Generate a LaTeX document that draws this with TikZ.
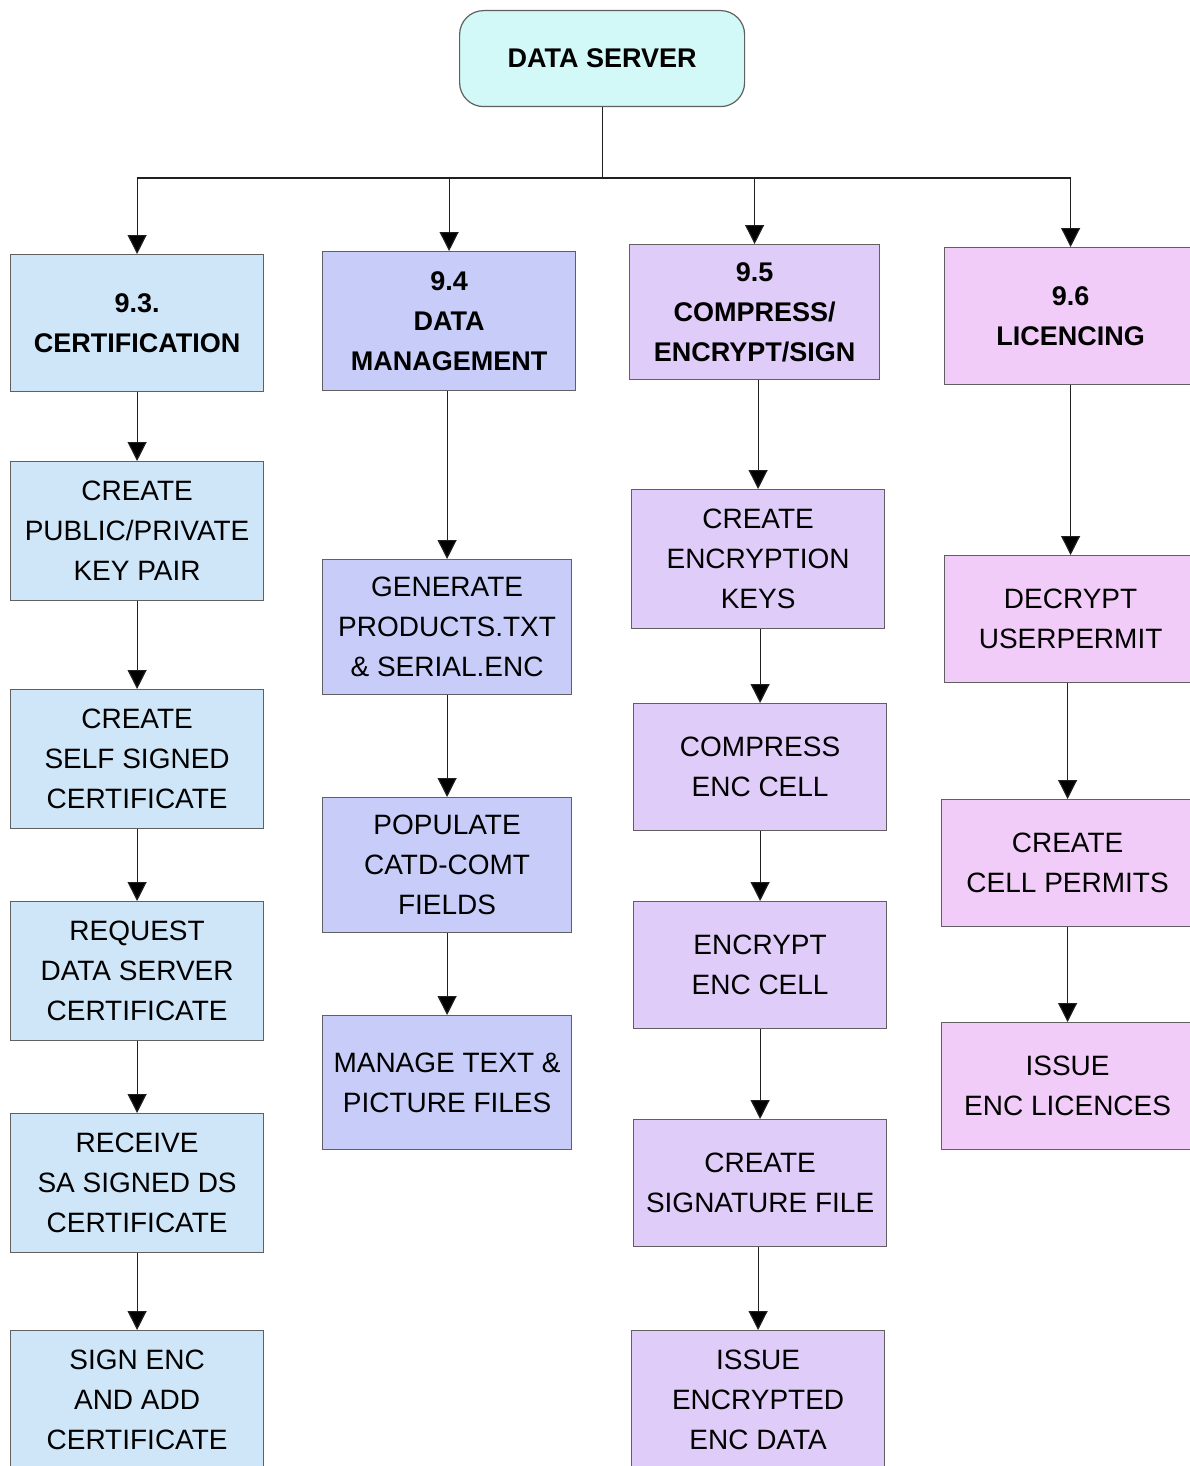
\documentclass[tikz,border=0pt]{standalone}
\usepackage{fontspec}
\setmainfont{Liberation Sans}
\usetikzlibrary{arrows.meta}
\definecolor{dsfill}{HTML}{D2F8F8}
\definecolor{cA}{HTML}{CFE5F8}
\definecolor{cB}{HTML}{C8CCF8}
\definecolor{cC}{HTML}{E0CCF8}
\definecolor{cD}{HTML}{F2CCF8}
\definecolor{bordergray}{HTML}{606060}
\definecolor{linegray}{HTML}{202020}
\begin{document}
\begin{tikzpicture}[x=1pt,y=-1pt,
  box/.style={draw=bordergray, line width=1.2pt, anchor=north west, align=center,
    inner sep=0pt, font=\fontsize{28}{40}\selectfont},
  hdr/.style={box, font=\fontsize{27}{40}\selectfont\bfseries},
  arr/.style={line width=1.2pt, draw=linegray, -{Triangle[width=19pt,length=19pt,fill=black]}},
  ln/.style={line width=1.2pt, draw=linegray}
]
\useasboundingbox (0,0) rectangle (1190,1466);
\clip (0,0) rectangle (1190,1466);

% top
\node[hdr, fill=dsfill, rounded corners=24pt, minimum width=285pt, minimum height=96pt] (ds) at (459,10) {DATA SERVER};

% column 1
\node[hdr, fill=cA, minimum width=253pt, minimum height=137pt] (c93) at (10,254) {9.3.\\CERTIFICATION};
\node[box, fill=cA, minimum width=253pt, minimum height=139pt] (c1a) at (10,461) {CREATE\\PUBLIC/PRIVATE\\KEY PAIR};
\node[box, fill=cA, minimum width=253pt, minimum height=139pt] (c1b) at (10,689) {CREATE\\SELF SIGNED\\CERTIFICATE};
\node[box, fill=cA, minimum width=253pt, minimum height=139pt] (c1c) at (10,901) {REQUEST\\DATA SERVER\\CERTIFICATE};
\node[box, fill=cA, minimum width=253pt, minimum height=139pt] (c1d) at (10,1113) {RECEIVE\\SA SIGNED DS\\CERTIFICATE};
\node[box, fill=cA, minimum width=253pt, minimum height=139pt] (c1e) at (10,1330) {SIGN ENC\\AND ADD\\CERTIFICATE};

% column 2
\node[hdr, fill=cB, minimum width=253pt, minimum height=139pt] (c94) at (322,251) {9.4\\DATA\\MANAGEMENT};
\node[box, fill=cB, minimum width=249pt, minimum height=135pt] (c2a) at (322,559) {GENERATE\\PRODUCTS.TXT\\\& SERIAL.ENC};
\node[box, fill=cB, minimum width=249pt, minimum height=135pt] (c2b) at (322,797) {POPULATE\\CATD-COMT\\FIELDS};
\node[box, fill=cB, minimum width=249pt, minimum height=134pt] (c2c) at (322,1015) {MANAGE TEXT \&\\PICTURE FILES};

% column 3
\node[hdr, fill=cC, minimum width=250pt, minimum height=135pt] (c95) at (629,244) {9.5\\COMPRESS/\\ENCRYPT/SIGN};
\node[box, fill=cC, minimum width=253pt, minimum height=139pt] (c3a) at (631,489) {CREATE\\ENCRYPTION\\KEYS};
\node[box, fill=cC, minimum width=253pt, minimum height=127pt] (c3b) at (633,703) {COMPRESS\\ENC CELL};
\node[box, fill=cC, minimum width=253pt, minimum height=127pt] (c3c) at (633,901) {ENCRYPT\\ENC CELL};
\node[box, fill=cC, minimum width=253pt, minimum height=127pt] (c3d) at (633,1119) {CREATE\\SIGNATURE FILE};
\node[box, fill=cC, minimum width=253pt, minimum height=139pt] (c3e) at (631,1330) {ISSUE\\ENCRYPTED\\ENC DATA};

% column 4
\node[hdr, fill=cD, minimum width=252pt, minimum height=137pt] (c96) at (944,247) {9.6\\LICENCING};
\node[box, fill=cD, minimum width=252pt, minimum height=127pt] (c4a) at (944,555) {DECRYPT\\USERPERMIT};
\node[box, fill=cD, minimum width=252pt, minimum height=127pt] (c4b) at (941,799) {CREATE\\CELL PERMITS};
\node[box, fill=cD, minimum width=252pt, minimum height=127pt] (c4c) at (941,1022) {ISSUE\\ENC LICENCES};

% tree from data server
\coordinate (j) at (604,178);
\draw[ln] (ds.south) -- (ds.south |- j);
\draw[ln] (j -| c93.north) -- (j -| c96.north);
\foreach \n in {c93,c94,c95,c96}
  \draw[arr] (j -| \n.north) -- (\n.north);

% column chains
\foreach \a/\b in {c93/c1a,c1a/c1b,c1b/c1c,c1c/c1d,c1d/c1e,
                   c94/c2a,c2a/c2b,c2b/c2c,
                   c95/c3a,c3a/c3b,c3b/c3c,c3c/c3d,c3d/c3e,
                   c96/c4a,c4a/c4b,c4b/c4c}
  \draw[arr] (\b.north |- \a.south) -- (\b.north);
\end{tikzpicture}
\end{document}
